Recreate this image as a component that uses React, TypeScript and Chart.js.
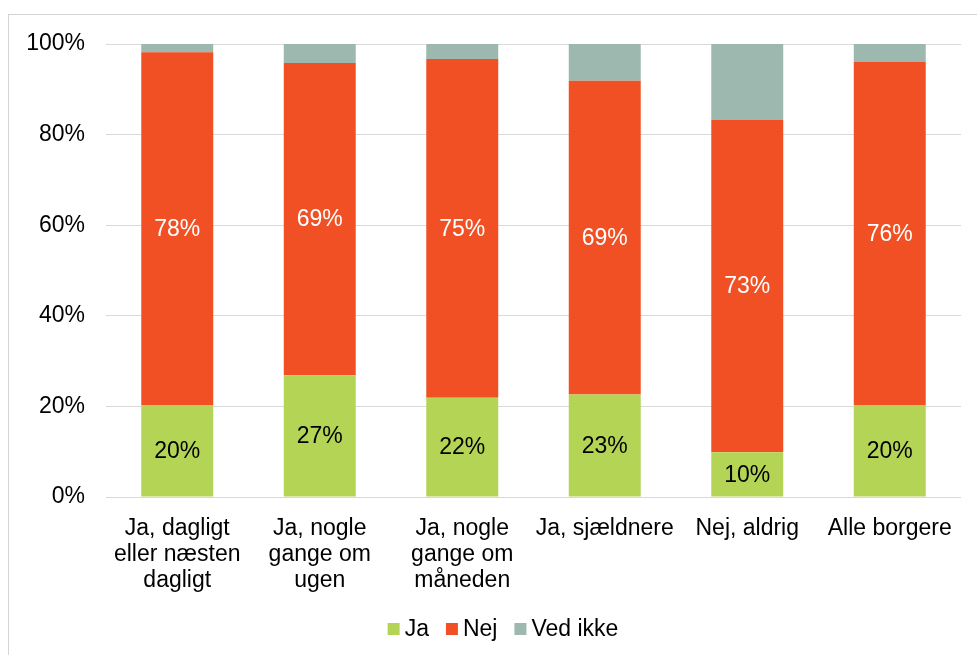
import React, { useEffect, useRef } from "react";
import { Chart, registerables } from "chart.js";

Chart.register(...registerables);

const categories: string[][] = [
  ["Ja, dagligt", "eller næsten", "dagligt"],
  ["Ja, nogle", "gange om", "ugen"],
  ["Ja, nogle", "gange om", "måneden"],
  ["Ja, sjældnere"],
  ["Nej, aldrig"],
  ["Alle borgere"],
];
const jaValues = [20.3, 26.9, 21.9, 22.6, 9.9, 20.3];
const nejValues = [77.9, 68.9, 74.8, 69.3, 73.3, 75.7];
const vedIkkeValues = [1.8, 4.2, 3.3, 8.1, 16.8, 4.0];
const yTicks = [0, 20, 40, 60, 80, 100];

const FONT = "'Liberation Sans', Arial, sans-serif";
const FS = 23;

const labelPlugin = {
  id: "segLabels",
  afterDatasetsDraw(chart: any) {
    const ctx = chart.ctx;
    ctx.save();
    ctx.font = `${FS}px ${FONT}`;
    ctx.textAlign = "center";
    ctx.textBaseline = "middle";
    [0, 1].forEach((di) => {
      const meta = chart.getDatasetMeta(di);
      const ds = chart.data.datasets[di];
      meta.data.forEach((bar: any, i: number) => {
        const v = ds.data[i] as number;
        const y = (bar.y + bar.base) / 2;
        ctx.fillStyle = di === 0 ? "#000000" : "#ffffff";
        ctx.fillText(`${Math.round(v)}%`, bar.x, y + 1);
      });
    });
    ctx.restore();
  },
};

const legendPlugin = {
  id: "customLegend",
  afterDraw(chart: any) {
    const ctx = chart.ctx;
    ctx.save();
    ctx.font = `${FS}px ${FONT}`;
    ctx.textBaseline = "middle";
    ctx.textAlign = "left";
    const box = 12;
    const gap = 5;
    const itemGap = 17;
    const items = chart.data.datasets.map((ds: any) => ({
      text: ds.label as string,
      color: ds.backgroundColor as string,
      w: ctx.measureText(ds.label).width,
    }));
    const total =
      items.reduce((a: number, it: any) => a + box + gap + it.w, 0) +
      itemGap * (items.length - 1);
    let x = 503 - total / 2;
    const cy = 630;
    items.forEach((it: any) => {
      ctx.fillStyle = it.color;
      ctx.fillRect(x, cy - box / 2 - 1, box, box);
      x += box + gap;
      ctx.fillStyle = "#000";
      ctx.fillText(it.text, x, cy);
      x += it.w + itemGap;
    });
    ctx.restore();
  },
};

export default function App() {
  const ref = useRef<HTMLCanvasElement>(null);
  useEffect(() => {
    document.body.style.overflow = "hidden";
    const chart = new Chart(ref.current!, {
      type: "bar",
      data: {
        labels: categories,
        datasets: [
          { label: "Ja", data: jaValues, backgroundColor: "#B4D455" },
          { label: "Nej", data: nejValues, backgroundColor: "#F05023" },
          { label: "Ved ikke", data: vedIkkeValues, backgroundColor: "#9DB8AE" },
        ],
      },
      options: {
        animation: false,
        responsive: false,
        maintainAspectRatio: false,
        layout: { padding: { left: 0, top: 44, right: 16, bottom: 0 } },
        datasets: {
          bar: { categoryPercentage: 1, barPercentage: 0.505 },
        },
        scales: {
          x: {
            stacked: true,
            grid: { display: false, drawTicks: false },
            border: { display: false },
            ticks: {
              color: "#000",
              font: { family: FONT, size: FS, lineHeight: 1.13 },
              padding: 19,
              maxRotation: 0,
              autoSkip: false,
            },
            afterFit: (s: any) => {
              s.height = 158;
            },
          },
          y: {
            stacked: true,
            min: 0,
            max: 100,
            afterBuildTicks: (s: any) => {
              s.ticks = yTicks.map((v) => ({ value: v }));
            },
            grid: { color: "#D9D9D9", lineWidth: 1, drawTicks: false },
            border: { display: false },
            ticks: {
              color: "#000",
              font: { family: FONT, size: FS },
              padding: 21,
              callback: (v: any) => `${v}%`,
            },
            afterFit: (s: any) => {
              s.width = 106;
            },
          },
        },
        plugins: {
          legend: { display: false },
          tooltip: { enabled: false },
        },
      },
      plugins: [labelPlugin, legendPlugin],
    });
    return () => chart.destroy();
  }, []);
  return (
    <div
      style={{
        position: "fixed",
        left: 0,
        top: 0,
        width: 977,
        height: 655,
        overflow: "hidden",
        background: "#fff",
      }}
    >
      <div
        style={{
          position: "absolute",
          left: 8,
          top: 14,
          width: 1000,
          height: 700,
          border: "1px solid #D4D4D4",
          boxSizing: "border-box",
        }}
      />
      <canvas
        ref={ref}
        width={977}
        height={655}
        style={{ position: "absolute", left: 0, top: 0, width: 977, height: 655 }}
      />
    </div>
  );
}
